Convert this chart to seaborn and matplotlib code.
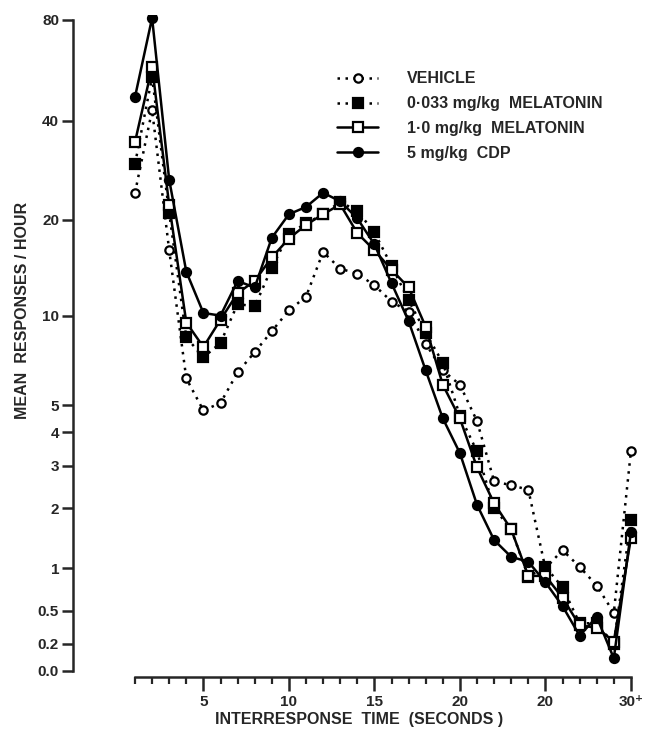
import matplotlib
matplotlib.use("Agg")
import matplotlib.pyplot as plt
import seaborn as sns
import numpy as np
import pandas as pd

# interresponse time bins (seconds), last bin is 30+
seconds = list(range(1, 31))

vehicle = [24.2, 43, 16.1, 6.2, 4.8, 5.1, 6.5, 7.6, 8.9, 10.4,
           11.5, 15.9, 14.1, 13.6, 12.5, 11.1, 10.3, 8.1, 6.6, 5.9,
           4.4, 2.6, 2.5, 2.4, 1.0, 1.26, 1.02, 0.78, 0.48, 3.4]
melatonin_low = [29.6, 54, 21, 8.5, 7.3, 8.15, 10.9, 10.7, 14.2, 18.1,
                 19.5, 20.8, 22.7, 21.3, 18.3, 14.4, 11.2, 8.8, 7.0, 4.6,
                 3.4, 2.0, 1.6, 0.89, 1.02, 0.76, 0.38, 0.38, 0.2, 1.77]
melatonin_high = [34.5, 57.9, 22.2, 9.5, 7.9, 9.7, 11.8, 12.9, 15.3, 17.5,
                  19.3, 20.8, 22.3, 18.2, 16.1, 14.0, 12.3, 9.2, 5.9, 4.5,
                  2.95, 2.1, 1.6, 0.9, 0.9, 0.64, 0.36, 0.34, 0.22, 1.45]
cdp = [47.1, 81, 26.5, 13.8, 10.2, 10.0, 12.9, 12.3, 17.6, 20.8,
       21.9, 24.2, 22.8, 20.2, 16.8, 12.7, 9.6, 6.6, 4.5, 3.35,
       2.07, 1.42, 1.16, 1.09, 0.82, 0.55, 0.27, 0.44, 0.09, 1.55]

labels = ["VEHICLE", "0\u00b7033 mg/kg  MELATONIN", "1\u00b70 mg/kg  MELATONIN", "5 mg/kg  CDP"]

y_ticks = [80, 40, 20, 10, 5, 4, 3, 2, 1, 0.5, 0.2, 0]
y_ticklabels = ["80", "40", "20", "10", "5", "4", "3", "2", "1", "0.5", "0.2", "0.0"]
x_ticks = [5, 10, 15, 20, 25, 30]
x_ticklabels = ["5", "10", "15", "20", "20", "30\u207a"]

df = pd.DataFrame({
    "seconds": seconds * 4,
    "rate": vehicle + melatonin_low + melatonin_high + cdp,
    "group": sum([[lab] * len(seconds) for lab in labels], []),
})

sns.set_style("ticks")
plt.rcParams["font.family"] = ["Liberation Sans", "DejaVu Sans"]
plt.rcParams["font.weight"] = "bold"

fig = plt.figure(figsize=(6.5, 7.32), dpi=100)
ax = fig.add_axes([73 / 650, 1 - 680 / 732, 567 / 650, 665 / 732])

ax.set_yscale("function", functions=(lambda v: np.log1p(np.maximum(v, -0.999)), np.expm1))

styles = {
    labels[0]: dict(marker="o", linestyle=(0, (1, 2.2)), markerfacecolor="white", markersize=6),
    labels[1]: dict(marker="s", linestyle=(0, (1, 2.2)), markerfacecolor="black", markersize=7.5),
    labels[2]: dict(marker="s", linestyle="-", markerfacecolor="white", markersize=7.5),
    labels[3]: dict(marker="o", linestyle="-", markerfacecolor="black", markersize=6.5),
}

for lab in labels:
    sub = df[df["group"] == lab]
    sns.lineplot(data=sub, x="seconds", y="rate", ax=ax, color="black",
                 linewidth=1.8, markeredgecolor="black", markeredgewidth=1.6,
                 label=lab, **styles[lab])

ax.set_xlim(1 - 62 / 17.1, 1 + 505 / 17.1)
ax.set_ylim(np.expm1(-9 / 148.2), np.expm1(656 / 148.2))

for s in ["top", "right"]:
    ax.spines[s].set_visible(False)
ax.spines["left"].set_bounds(0, 80)
ax.spines["left"].set_linewidth(1.8)
ax.spines["bottom"].set_position(("data", np.expm1(-6 / 148.2)))
ax.spines["bottom"].set_bounds(1, 30)
ax.spines["bottom"].set_linewidth(1.8)

ax.set_yticks(y_ticks)
ax.set_yticklabels(y_ticklabels)
ax.yaxis.set_minor_locator(matplotlib.ticker.NullLocator())
ax.tick_params(axis="y", direction="out", length=8, width=1.8, labelsize=11, pad=2)

ax.set_xticks(x_ticks)
ax.set_xticklabels(x_ticklabels)
ax.set_xticks([s for s in seconds if s not in x_ticks], minor=True)
ax.tick_params(axis="x", which="major", direction="out", length=10, width=1.8, labelsize=11, pad=3)
ax.tick_params(axis="x", which="minor", direction="out", length=5, width=1.6)

ax.set_xlabel("INTERRESPONSE  TIME  (SECONDS )", fontsize=11.5, fontweight="heavy")
ax.xaxis.set_label_coords(0.505, -0.048)
ax.set_ylabel("MEAN  RESPONSES / HOUR", fontsize=11.5, fontweight="heavy")
ax.yaxis.set_label_coords(-0.075, 0.555)

ax.legend(loc="upper left", bbox_to_anchor=(0.44, 0.937), frameon=False,
          handlelength=2.6, fontsize=11.5, labelspacing=0.62, handletextpad=1.8)

fig.savefig("out.png", dpi=100)
